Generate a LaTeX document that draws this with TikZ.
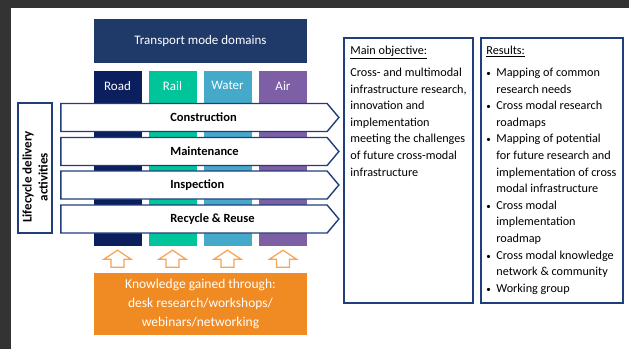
\documentclass[tikz,border=0pt]{standalone}
\usepackage{fontspec}
\setmainfont{Carlito}
\usetikzlibrary{shapes.symbols}

\definecolor{framegray}{HTML}{333333}
\definecolor{titleblue}{HTML}{1F3A68}
\definecolor{roadblue}{HTML}{0B1F5E}
\definecolor{railgreen}{HTML}{00C59A}
\definecolor{waterblue}{HTML}{45A9C9}
\definecolor{airpurple}{HTML}{7D5FA6}
\definecolor{lineblue}{HTML}{213E7C}
\definecolor{knoworange}{HTML}{F08A22}
\definecolor{arroworange}{HTML}{F7A457}

\tikzset{
  modecol/.style={minimum width=48pt, minimum height=175pt, inner sep=0pt},
  modelabel/.style={text=white, inner sep=0pt, font=\fontsize{13}{15}\selectfont},
  phase/.style={signal, signal to=east, signal pointer angle=100, draw=lineblue,
    line width=1.4pt, fill=white, minimum width=278pt, minimum height=28pt,
    inner sep=0pt},
  phaselbl/.style={anchor=west, inner sep=0pt, font=\bfseries\fontsize{12.5}{14}\selectfont},
  infobox/.style={draw=lineblue, line width=1.6pt, minimum height=265pt, inner sep=0pt},
  infotext/.style={anchor=north west, inner sep=0pt, align=left,
    font=\fontsize{12.2}{16.6}\selectfont},
  uparrow/.style={draw=arroworange, line width=1.3pt, fill=white},
}
\newcommand{\itm}{\makebox[10pt][l]{\fontsize{9}{9}\selectfont\textbullet}}
\newcommand{\ind}{\hspace*{10pt}}

\begin{document}
\begin{tikzpicture}[x=1pt, y=-1pt]
  \useasboundingbox (0,0) rectangle (629,349);
  \fill[framegray] (0,0) rectangle (629,349);
  \fill[white] (11,8) rectangle (629,349);

  % transport modes
  \node[fill=titleblue, minimum width=213pt, minimum height=44pt, text=white,
    font=\fontsize{13}{15}\selectfont] (modes) at (200.5,41) {Transport mode domains};
  \node[modecol, fill=roadblue] (road) at (117.5,158.5) {};
  \node[modecol, fill=railgreen] (rail) at (172.5,158.5) {};
  \node[modecol, fill=waterblue] (water) at (227.5,158.5) {};
  \node[modecol, fill=airpurple] (air) at (283,158.5) {};
  \node[modelabel] (roadlbl) at ([yshift=-15pt]road.north) {Road};
  \node[modelabel] (raillbl) at ([yshift=-15pt]rail.north) {Rail};
  \node[modelabel] (waterlbl) at ([yshift=-15pt]water.north) {Water};
  \node[modelabel] (airlbl) at ([yshift=-15pt]air.north) {Air};

  % lifecycle activities
  \node[phase] (constr) at (194,117.5) {};
  \node[phase] (maint) at (194,151.5) {};
  \node[phase] (insp) at (194,185) {};
  \node[phase] (recyc) at (194,219) {};
  \node[phaselbl] (constrlbl) at ([xshift=110pt]constr.west) {Construction};
  \node[phaselbl] (maintlbl) at ([xshift=110pt]maint.west) {Maintenance};
  \node[phaselbl] (insplbl) at ([xshift=110pt]insp.west) {Inspection};
  \node[phaselbl] (recyclbl) at ([xshift=110pt]recyc.west) {Recycle \& Reuse};
  \node[draw=lineblue, line width=1.4pt, minimum width=34pt, minimum height=130pt,
    inner sep=0pt] (life) at (35,168) {};
  \node[rotate=90, inner sep=0pt, align=center,
    font=\bfseries\fontsize{13}{16}\selectfont] (lifelbl) at ([yshift=-9pt]life.center)
    {Lifecycle delivery\\activities};

  % knowledge input
  \node[fill=knoworange, minimum width=213pt, minimum height=62pt, text=white,
    align=center, font=\fontsize{13.5}{19}\selectfont] (know) at (200.5,304)
    {Knowledge gained through:\\desk research/workshops/\\webinars/networking};
  \foreach \m in {road,rail,water,air}
    \draw[uparrow] ([xshift=-6.5pt,yshift=-21pt]\m.south)
      -- ([xshift=-6.5pt,yshift=-13pt]\m.south)
      -- ([xshift=-13.5pt,yshift=-13pt]\m.south)
      -- ([yshift=-4pt]\m.south)
      -- ([xshift=13.5pt,yshift=-13pt]\m.south)
      -- ([xshift=6.5pt,yshift=-13pt]\m.south)
      -- ([xshift=6.5pt,yshift=-21pt]\m.south) -- cycle;

  % objective and results
  \node[infobox, minimum width=129pt] (objbox) at (408.5,170.5) {};
  \node[infotext] (objtext) at ([xshift=7pt,yshift=-9pt]objbox.north west)
    {\underline{Main objective:}\\[5pt]
     Cross- and multimodal\\infrastructure research,\\innovation and\\
     implementation\\meeting the challenges\\of future cross-modal\\infrastructure};
  \node[infobox, minimum width=142pt] (resbox) at (552,170.5) {};
  \node[infotext] (restext) at ([xshift=6pt,yshift=-9pt]resbox.north west)
    {\underline{Results:}\\[5pt]
     \itm Mapping of common\\\ind research needs\\
     \itm Cross modal research\\\ind roadmaps\\
     \itm Mapping of potential\\\ind for future research and\\
     \ind implementation of cross\\\ind modal infrastructure\\
     \itm Cross modal\\\ind implementation\\\ind roadmap\\
     \itm Cross modal knowledge\\\ind network \& community\\
     \itm Working group};
\end{tikzpicture}
\end{document}
